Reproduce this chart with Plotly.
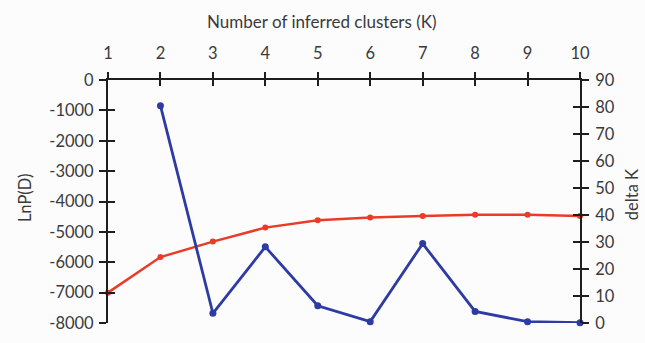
import plotly.graph_objects as go

# Number of inferred clusters
k_values = [1, 2, 3, 4, 5, 6, 7, 8, 9, 10]
# Mean log-likelihood LnP(D) per K
lnp_d = [-7000, -5830, -5320, -4860, -4620, -4530, -4480, -4440, -4440, -4480]
# Evanno delta K (undefined for K=1)
delta_k = [None, 80.5, 3.6, 28.2, 6.4, 0.5, 29.4, 4.3, 0.5, 0.1]

left_ticks = [0, -1000, -2000, -3000, -4000, -5000, -6000, -7000, -8000]
left_labels = ["0", "-1000", "-2000", "-3000", "-4000", "-5000", "-6000", "-7000", "-8000"]
right_ticks = [0, 10, 20, 30, 40, 50, 60, 70, 80, 90]

RED = "#ea3b28"
BLUE = "#2d3ba3"
AX = "#1e1e1e"
TXT = "#3a3a3a"
FONT = "Lato"
FS = 16.5

fig = go.Figure()

fig.add_trace(go.Scatter(
    x=k_values, y=lnp_d, mode="lines+markers", name="LnP(D)",
    line=dict(color=RED, width=2.5), marker=dict(color=RED, size=6),
    cliponaxis=False, yaxis="y",
))
fig.add_trace(go.Scatter(
    x=k_values, y=delta_k, mode="lines+markers", name="delta K",
    line=dict(color=BLUE, width=2.8), marker=dict(color=BLUE, size=7),
    cliponaxis=False, yaxis="y2", connectgaps=False,
))

common_x = dict(range=[1, 10], tickvals=k_values, showgrid=False, zeroline=False,
                showline=True, linecolor=AX, linewidth=2, tickcolor=AX,
                ticklen=6, tickwidth=1.5)
common_l = dict(range=[-8000, 0], tickvals=left_ticks, ticktext=left_labels,
                showgrid=False, zeroline=False, ticklen=7, tickwidth=1.5,
                tickcolor=AX)
common_r = dict(range=[0, 90], tickvals=right_ticks, showgrid=False,
                zeroline=False, ticklen=7, tickwidth=1.5, tickcolor=AX)

fig.update_layout(
    width=645, height=343,
    margin=dict(l=108, r=65, t=80, b=10),
    paper_bgcolor="#fcfcfd", plot_bgcolor="#fcfcfd",
    showlegend=False,
    font=dict(family=FONT, color=TXT, size=FS),
    xaxis=dict(**common_x, side="top", ticks="outside", anchor="y",
               ticklabelstandoff=6, tickfont=dict(size=FS)),
    # inner half of the crossing ticks on the top axis
    xaxis2=dict(**common_x, side="top", ticks="inside", overlaying="x",
                anchor="y", showticklabels=False),
    yaxis=dict(**common_l, showline=True, linecolor=AX, linewidth=2,
               ticks="outside", ticklabelstandoff=2, tickfont=dict(size=FS)),
    yaxis3=dict(**common_l, showline=False, ticks="inside",
                showticklabels=False, overlaying="y", side="left"),
    yaxis2=dict(**common_r, showline=True, linecolor=AX, linewidth=2,
                ticks="outside", overlaying="y", side="right",
                ticklabelstandoff=3, tickfont=dict(size=FS)),
    yaxis4=dict(**common_r, showline=False, ticks="inside",
                showticklabels=False, overlaying="y", side="right"),
)

# axis titles
fig.add_annotation(text="Number of inferred clusters (K)", xref="paper", yref="paper",
                   x=0.4534, y=1.241, showarrow=False, font=dict(size=FS + 0.5),
                   xanchor="center", yanchor="middle")
fig.add_annotation(text="LnP(D)", xref="paper", yref="paper", x=-0.1758, y=0.514,
                   textangle=-90, showarrow=False, font=dict(size=FS),
                   xanchor="center", yanchor="middle")
fig.add_annotation(text="delta K", xref="paper", yref="paper", x=1.110, y=0.530,
                   textangle=-90, showarrow=False, font=dict(size=FS),
                   xanchor="center", yanchor="middle")

# invisible traces so the overlay axes are drawn
fig.add_trace(go.Scatter(x=[None], y=[None], xaxis="x2", yaxis="y3",
                         showlegend=False, hoverinfo="skip"))
fig.add_trace(go.Scatter(x=[None], y=[None], xaxis="x2", yaxis="y4",
                         showlegend=False, hoverinfo="skip"))

fig.write_html("out.html")
